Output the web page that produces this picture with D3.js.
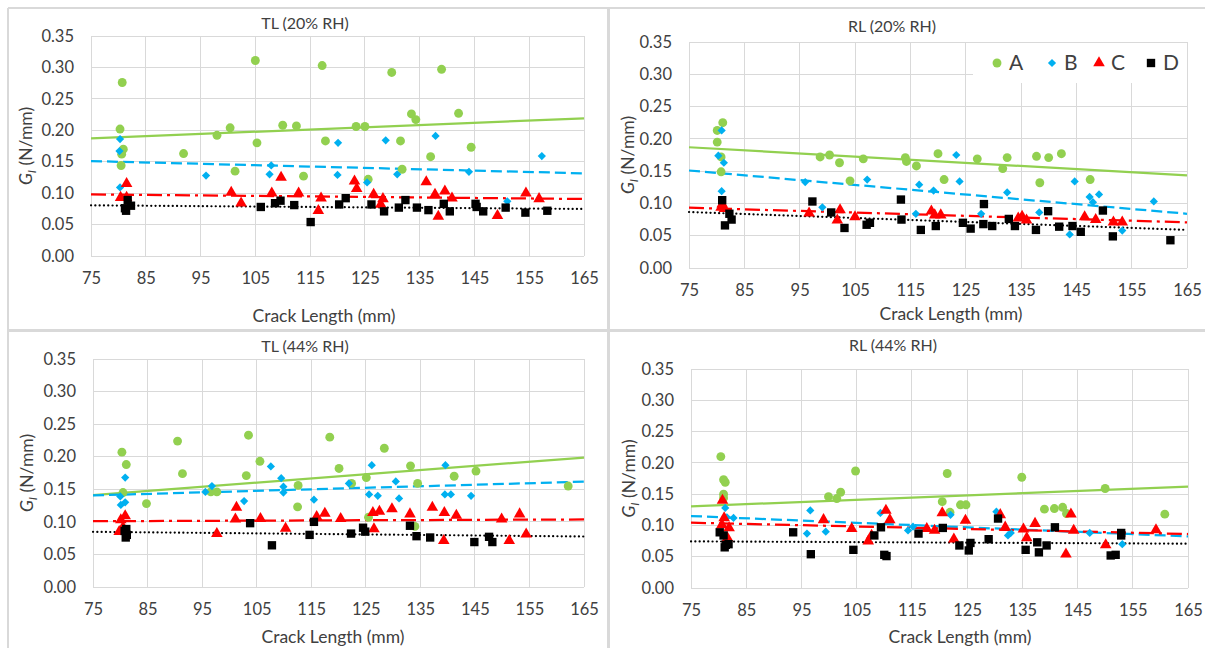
<!DOCTYPE html>
<html>
<head>
<meta charset="utf-8">
<script src="https://cdn.jsdelivr.net/npm/d3@7"></script>
<style>
  body { margin: 0; background: #fff; }
  text { font-family: Lato, "Open Sans", sans-serif; fill: #404040; }
</style>
</head>
<body>
<div id="chart"></div>
<script>
// x ticks shared by all four panels
const xTicks = [75, 85, 95, 105, 115, 125, 135, 145, 155, 165];
const yTicks = [0, 0.05, 0.10, 0.15, 0.20, 0.25, 0.30, 0.35];
const seriesNames = ["A", "B", "C", "D"];
const seriesColors = ["#92D050", "#00B0F0", "#FF0000", "#000000"];

// TL (20% RH) : [crack length mm, G_I N/mm]
const tl20A = [[80.7,0.276],[80.3,0.202],[80.9,0.170],[80.6,0.162],[80.5,0.144],[91.9,0.163],[98.0,0.192],[100.4,0.204],[101.3,0.135],[105.0,0.311],[105.3,0.180],[110.0,0.208],[112.5,0.207],[113.8,0.127],[117.2,0.303],[117.8,0.183],[123.4,0.206],[125.0,0.206],[125.6,0.122],[129.9,0.292],[131.5,0.183],[131.8,0.138],[133.5,0.226],[134.3,0.217],[137.0,0.158],[139.0,0.297],[142.1,0.227],[144.4,0.173]];
const tl20B = [[80.3,0.186],[80.2,0.167],[80.3,0.109],[96.0,0.128],[107.9,0.144],[107.6,0.130],[120.1,0.180],[120.0,0.129],[125.4,0.117],[128.8,0.184],[130.9,0.130],[137.9,0.191],[144.0,0.134],[151.0,0.087],[157.3,0.159]];
const tl20C = [[81.5,0.115],[80.4,0.093],[81.5,0.093],[100.6,0.101],[102.4,0.084],[108.0,0.100],[109.7,0.125],[112.9,0.100],[116.5,0.072],[117.0,0.092],[123.1,0.119],[123.5,0.107],[126.6,0.098],[127.9,0.082],[128.3,0.091],[136.2,0.118],[137.8,0.098],[138.4,0.063],[139.6,0.103],[140.9,0.092],[149.2,0.064],[154.4,0.100],[156.8,0.091]];
const tl20D = [[81.4,0.072],[81.7,0.089],[82.3,0.080],[81.2,0.076],[106.0,0.078],[108.6,0.084],[109.6,0.088],[112.1,0.081],[115.1,0.054],[120.3,0.082],[121.5,0.092],[126.2,0.082],[128.5,0.071],[131.2,0.077],[132.4,0.089],[134.5,0.077],[136.6,0.073],[139.4,0.083],[140.5,0.071],[145.2,0.083],[145.4,0.078],[146.6,0.071],[150.7,0.077],[154.3,0.069],[158.3,0.072]];
// trend line values at x=75 and x=165, series A..D
const tl20Trend = [[0.187,0.219],[0.151,0.1315],[0.098,0.0907],[0.0806,0.0748]];

// RL (20% RH)
const rl20A = [[80.1,0.213],[80.1,0.195],[81.1,0.225],[80.8,0.172],[80.8,0.149],[98.7,0.172],[100.4,0.175],[102.2,0.163],[104.1,0.135],[106.5,0.169],[114.1,0.171],[114.3,0.165],[116.1,0.158],[120.0,0.177],[121.1,0.137],[127.1,0.169],[131.7,0.154],[132.5,0.171],[137.8,0.173],[138.4,0.132],[140.0,0.171],[142.3,0.177],[147.5,0.137]];
const rl20B = [[80.9,0.213],[80.3,0.174],[81.3,0.163],[80.9,0.119],[96.0,0.133],[99.1,0.094],[107.2,0.137],[116.6,0.129],[116.0,0.084],[119.2,0.120],[123.3,0.175],[123.9,0.134],[127.8,0.084],[132.5,0.117],[138.3,0.086],[143.8,0.052],[144.7,0.134],[147.4,0.110],[148.0,0.102],[149.1,0.114],[153.3,0.058],[159.0,0.103]];
const rl20C = [[81.0,0.099],[80.8,0.094],[81.4,0.092],[96.7,0.085],[102.3,0.090],[101.8,0.074],[105.0,0.079],[118.8,0.088],[119.4,0.082],[120.5,0.082],[134.5,0.077],[135.2,0.080],[136.0,0.074],[146.5,0.079],[148.5,0.075],[151.7,0.071],[153.3,0.071]];
const rl20D = [[81.0,0.105],[81.5,0.066],[82.3,0.084],[82.7,0.075],[97.3,0.103],[100.7,0.086],[103.1,0.062],[107.1,0.067],[107.7,0.070],[113.3,0.106],[113.4,0.075],[116.9,0.059],[119.6,0.065],[124.5,0.070],[125.9,0.061],[128.3,0.099],[128.2,0.068],[129.8,0.065],[132.8,0.076],[133.9,0.065],[137.7,0.059],[139.9,0.088],[141.9,0.064],[144.3,0.065],[145.8,0.056],[149.8,0.089],[151.6,0.049],[162.0,0.043]];
const rl20Trend = [[0.187,0.1435],[0.151,0.084],[0.0934,0.0707],[0.0867,0.059]];

// TL (44% RH)
const tl44A = [[80.3,0.207],[80.5,0.145],[81.1,0.188],[84.8,0.128],[90.5,0.224],[91.4,0.174],[96.6,0.146],[97.7,0.146],[103.1,0.171],[103.5,0.233],[105.6,0.193],[112.6,0.156],[112.5,0.123],[118.4,0.230],[120.1,0.182],[122.4,0.159],[125.1,0.168],[125.5,0.107],[128.4,0.213],[133.2,0.186],[134.5,0.159],[134.0,0.093],[141.2,0.170],[145.2,0.178],[162.1,0.155]];
const tl44B = [[80.0,0.139],[80.1,0.126],[80.9,0.130],[80.9,0.168],[95.6,0.146],[96.8,0.155],[102.7,0.132],[107.6,0.185],[109.5,0.167],[109.9,0.154],[109.9,0.145],[115.5,0.134],[121.9,0.159],[126.1,0.187],[125.6,0.142],[127.2,0.140],[130.5,0.162],[131.1,0.136],[139.6,0.187],[139.5,0.142],[140.6,0.142],[144.3,0.140]];
const tl44C = [[80.1,0.103],[80.9,0.109],[79.8,0.085],[80.5,0.092],[97.7,0.082],[101.3,0.122],[101.1,0.104],[105.7,0.105],[110.3,0.090],[116.0,0.108],[117.5,0.113],[120.4,0.105],[126.3,0.114],[127.5,0.116],[126.5,0.089],[129.8,0.120],[133.1,0.112],[137.2,0.122],[139.3,0.071],[139.4,0.114],[141.6,0.110],[149.9,0.104],[151.3,0.071],[153.2,0.112],[154.4,0.081]];
const tl44D = [[80.8,0.086],[81.0,0.076],[81.1,0.089],[81.2,0.080],[103.8,0.098],[107.8,0.064],[114.7,0.080],[115.5,0.100],[122.3,0.082],[124.5,0.091],[124.9,0.085],[133.1,0.094],[134.3,0.078],[136.8,0.076],[144.9,0.069],[147.6,0.077],[148.2,0.069]];
const tl44Trend = [[0.141,0.1987],[0.1406,0.1617],[0.101,0.1037],[0.0847,0.0775]];

// RL (44% RH)
const rl44A = [[80.4,0.210],[80.9,0.173],[81.2,0.169],[80.9,0.150],[80.9,0.144],[99.9,0.146],[101.4,0.143],[102.1,0.153],[104.8,0.187],[120.5,0.138],[121.4,0.183],[121.9,0.121],[123.8,0.133],[124.8,0.133],[134.9,0.177],[139.0,0.126],[140.8,0.127],[142.3,0.129],[143.0,0.119],[150.0,0.159],[160.8,0.118]];
const rl44B = [[81.2,0.128],[82.7,0.112],[81.5,0.113],[96.0,0.087],[96.6,0.124],[99.4,0.090],[109.3,0.120],[114.3,0.092],[115.2,0.098],[122.0,0.117],[130.3,0.122],[132.4,0.084],[132.9,0.088],[147.2,0.088],[153.1,0.070]];
const rl44C = [[80.7,0.140],[80.6,0.101],[81.0,0.112],[81.9,0.096],[81.6,0.080],[99.0,0.109],[104.1,0.095],[107.1,0.075],[107.7,0.084],[110.3,0.124],[111.0,0.109],[117.7,0.095],[119.1,0.092],[120.5,0.120],[122.6,0.078],[124.7,0.108],[131.0,0.117],[131.9,0.097],[135.2,0.094],[135.8,0.080],[137.3,0.103],[142.9,0.054],[143.8,0.118],[144.3,0.092],[150.1,0.069],[159.2,0.093]];
const rl44D = [[80.2,0.089],[80.9,0.084],[81.1,0.065],[81.3,0.069],[81.8,0.070],[93.5,0.089],[96.7,0.054],[104.4,0.061],[108.2,0.084],[109.4,0.097],[110.0,0.053],[110.4,0.051],[116.2,0.087],[120.6,0.096],[123.6,0.068],[125.3,0.060],[125.6,0.072],[128.9,0.078],[130.6,0.111],[135.6,0.061],[137.7,0.073],[138.0,0.057],[139.4,0.068],[140.9,0.097],[151.0,0.052],[151.9,0.053],[152.9,0.084],[152.9,0.088]];
const rl44Trend = [[0.1305,0.162],[0.115,0.0825],[0.1044,0.0863],[0.0745,0.0708]];

const width = 1205, height = 648;

// panel layout: plot box, title and axis-title positions
const panels = [
    { title: "TL (20% RH)", series: [tl20A, tl20B, tl20C, tl20D], trend: tl20Trend,
      left: 91, right: 584, top: 36, bottom: 256, titleX: 305, titleY: 29, xtX: 324, xtY: 322, ytX: 26, legend: false },
    { title: "RL (20% RH)", series: [rl20A, rl20B, rl20C, rl20D], trend: rl20Trend,
      left: 689, right: 1187, top: 42, bottom: 268, titleX: 892, titleY: 32, xtX: 951, xtY: 320, ytX: 628, legend: true },
    { title: "TL (44% RH)", series: [tl44A, tl44B, tl44C, tl44D], trend: tl44Trend,
      left: 93, right: 584, top: 359, bottom: 587, titleX: 305, titleY: 352, xtX: 333, xtY: 643, ytX: 27, legend: false },
    { title: "RL (44% RH)", series: [rl44A, rl44B, rl44C, rl44D], trend: rl44Trend,
      left: 691, right: 1188, top: 369, bottom: 588, titleX: 893, titleY: 351, xtX: 960, xtY: 643, ytX: 629, legend: false }
];

const symbols = [d3.symbolCircle, d3.symbolSquare, d3.symbolTriangle, d3.symbolSquare];
const symbolSizes = [62, 34, 58, 70];
const dashes = [null, "11,5", "15,5,3,5", "0.1,4.2"];

const svg = d3.select("#chart")
    .append("svg")
    .attr("width", width)
    .attr("height", height)
    .style("background", "#fff");

// chart borders
const borderColor = "#d9d9d9";
[[8, 8, 8, 648, 2], [608.5, 8, 608.5, 648, 3], [8, 8, 1205, 8, 2], [8, 330.5, 1205, 330.5, 3]].forEach(b => {
    svg.append("line")
        .attr("x1", b[0]).attr("y1", b[1]).attr("x2", b[2]).attr("y2", b[3])
        .attr("stroke", borderColor)
        .attr("stroke-width", b[4]);
});

function markerPath(i) {
    return d3.symbol().type(symbols[i]).size(symbolSizes[i])();
}

panels.forEach(p => {
    const x = d3.scaleLinear().domain([75, 165]).range([p.left, p.right]);
    const y = d3.scaleLinear().domain([0, 0.35]).range([p.bottom, p.top]);
    const g = svg.append("g");

    // gridlines
    g.append("g")
        .selectAll("line")
        .data(xTicks)
        .enter()
        .append("line")
        .attr("x1", d => x(d)).attr("x2", d => x(d))
        .attr("y1", p.top).attr("y2", p.bottom)
        .attr("stroke", borderColor)
        .attr("shape-rendering", "crispEdges");
    g.append("g")
        .selectAll("line")
        .data(yTicks)
        .enter()
        .append("line")
        .attr("x1", p.left).attr("x2", p.right)
        .attr("y1", d => y(d)).attr("y2", d => y(d))
        .attr("stroke", borderColor)
        .attr("shape-rendering", "crispEdges");

    // axes (labels only, gridlines act as axis lines)
    const xAxis = g.append("g")
        .attr("transform", `translate(0,${p.bottom})`)
        .call(d3.axisBottom(x).tickValues(xTicks).tickSize(0).tickPadding(16));
    const yAxis = g.append("g")
        .attr("transform", `translate(${p.left},0)`)
        .call(d3.axisLeft(y).tickValues(yTicks).tickSize(0).tickPadding(17).tickFormat(d3.format(".2f")));
    [xAxis, yAxis].forEach(a => {
        a.select(".domain").remove();
        a.selectAll("text")
            .style("font-family", "Lato, 'Open Sans', sans-serif")
            .style("font-size", "16.5px")
            .attr("fill", "#404040");
    });

    // titles
    g.append("text")
        .attr("x", p.titleX).attr("y", p.titleY)
        .attr("text-anchor", "middle")
        .style("font-size", "16px")
        .text(p.title);
    g.append("text")
        .attr("x", p.xtX).attr("y", p.xtY)
        .attr("text-anchor", "middle")
        .style("font-size", "17.5px")
        .text("Crack Length (mm)");
    const yt = g.append("text")
        .attr("transform", `translate(${p.ytX + 6},${(p.top + p.bottom) / 2}) rotate(-90)`)
        .attr("text-anchor", "middle")
        .style("font-size", "17.5px");
    yt.append("tspan").style("font-style", "italic").text("G");
    yt.append("tspan").style("font-style", "italic").style("font-size", "12px").attr("dy", 4).text("I");
    yt.append("tspan").attr("dy", -4).text(" (N/mm)");

    // trend lines
    const line = d3.line().x(d => x(d[0])).y(d => y(d[1]));
    p.trend.forEach((t, i) => {
        g.append("path")
            .datum([[75, t[0]], [165, t[1]]])
            .attr("d", line)
            .attr("fill", "none")
            .attr("stroke", seriesColors[i])
            .attr("stroke-width", i === 3 ? 2.2 : 2.25)
            .attr("stroke-linecap", i === 3 ? "round" : "butt")
            .attr("stroke-dasharray", dashes[i]);
    });

    // markers
    p.series.forEach((s, i) => {
        g.append("g")
            .selectAll("path")
            .data(s)
            .enter()
            .append("path")
            .attr("d", markerPath(i))
            .attr("transform", d => `translate(${x(d[0])},${y(d[1])})` + (i === 1 ? " rotate(45)" : ""))
            .attr("fill", seriesColors[i]);
    });

    // legend
    if (p.legend) {
        const lg = g.append("g");
        lg.append("rect")
            .attr("x", 973).attr("y", p.top + 1)
            .attr("width", p.right - 973).attr("height", 40)
            .attr("fill", "#fff");
        const lx = [997, 1052, 1099, 1151];
        seriesNames.forEach((n, i) => {
            lg.append("path")
                .attr("d", markerPath(i))
                .attr("transform", `translate(${lx[i]},63)` + (i === 1 ? " rotate(45)" : ""))
                .attr("fill", seriesColors[i]);
            lg.append("text")
                .attr("x", lx[i] + 12).attr("y", 70)
                .style("font-size", "21px")
                .attr("fill", "#000")
                .text(n);
        });
    }
});
</script>
</body>
</html>
